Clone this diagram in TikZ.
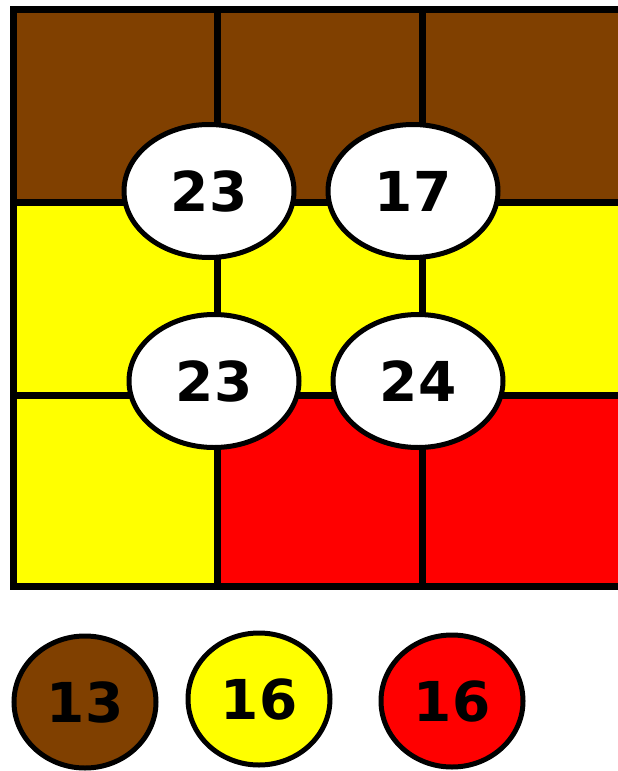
\documentclass[tikz,border=0pt]{standalone}
\usepackage{fontspec}
\setmainfont{DejaVu Sans}
\usepackage{tikz}
\usetikzlibrary{shapes.geometric}

\definecolor{cellbrown}{RGB}{128,64,0}
\definecolor{cellyellow}{RGB}{255,255,0}
\definecolor{cellred}{RGB}{255,0,0}

\tikzset{
  sumnode/.style={ellipse, draw=black, line width=5pt, fill=white, inner sep=0pt,
    minimum width=170pt, minimum height=133pt,
    font=\fontsize{55}{60}\selectfont\bfseries},
  keynode/.style={sumnode, minimum width=142pt, minimum height=132pt}
}

\begin{document}
\begin{tikzpicture}[x=1pt, y=-1pt]
        % --- 1. Parameters ---
        \def\xA{13}
        \def\xB{217}
        \def\xC{422}
        \def\xD{640}
        \def\yA{9}
        \def\yB{202}
        \def\yC{395}
        \def\yD{586}

        \useasboundingbox (0,0) rectangle (618,771);
        \clip (0,0) rectangle (618,771);

        % --- 2. Cells ---
        \fill[cellbrown] (\xA,\yA) rectangle (\xD,\yB);
        \fill[cellyellow] (\xA,\yB) rectangle (\xD,\yC);
        \fill[cellyellow] (\xA,\yC) rectangle (\xB,\yD);
        \fill[cellred] (\xB,\yC) rectangle (\xD,\yD);

        % --- 3. Grid lines ---
        \draw[line width=7pt] (\xD,\yA) -- (\xA,\yA) -- (\xA,\yD) -- (\xD,\yD);
        \draw[line width=7pt] (\xA,\yB) -- (\xD,\yB);
        \draw[line width=7pt] (\xA,\yC) -- (\xD,\yC);
        \draw[line width=7pt] (\xB,\yA) -- (\xB,\yD);
        \draw[line width=7pt] (\xC,\yA) -- (\xC,\yD);

        % --- 4. Sums on the corners ---
        \node[sumnode] (sumTL) at (209,191) {23};
        \node[sumnode] (sumTR) at (413,191) {17};
        \node[sumnode] (sumBL) at (214,381) {23};
        \node[sumnode] (sumBR) at (418,381) {24};

        % --- 5. Colour totals ---
        \node[keynode, fill=cellbrown] (keyBrown) at (85,702) {13};
        \node[keynode, fill=cellyellow] (keyYellow) at (259,699) {16};
        \node[keynode, fill=cellred] (keyRed) at (452,701) {16};
    \end{tikzpicture}
\end{document}
